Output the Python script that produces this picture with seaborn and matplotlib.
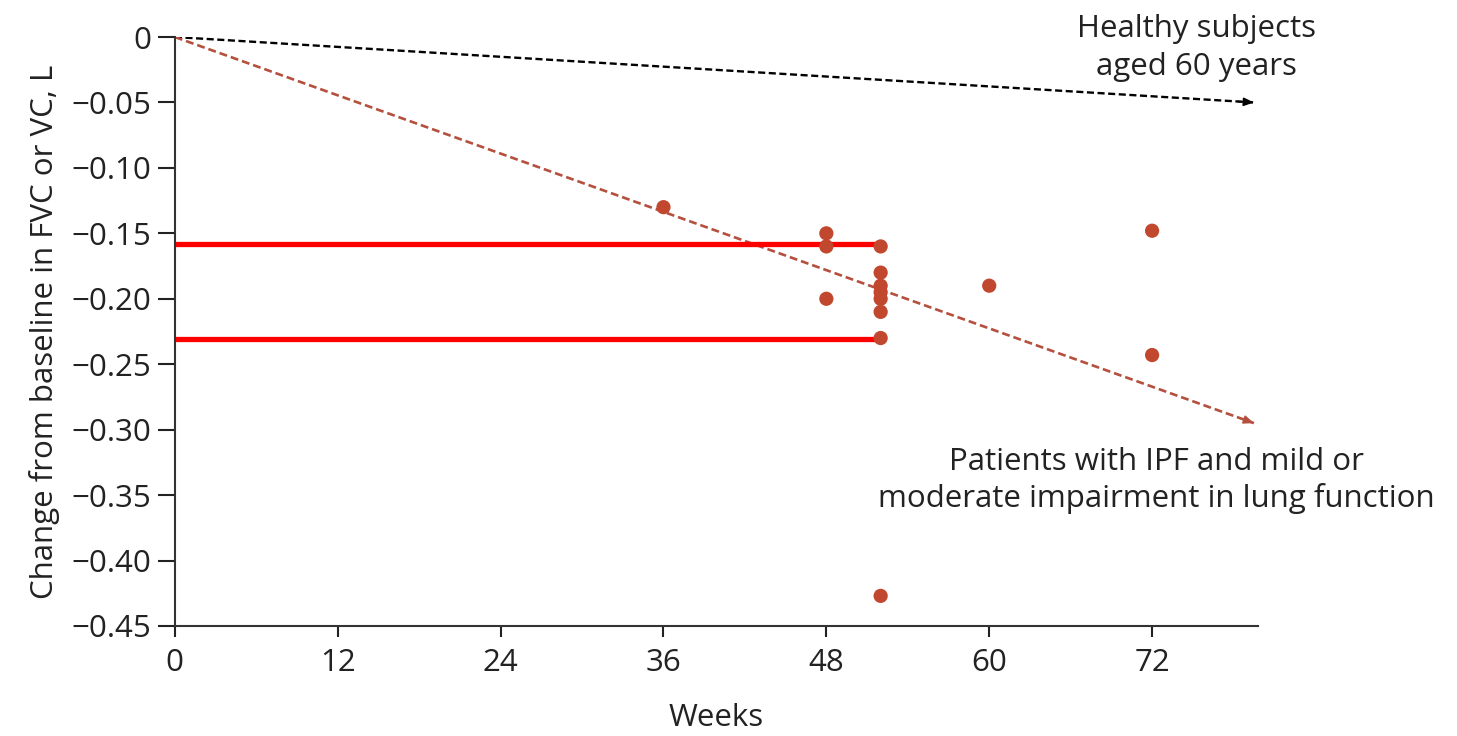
import matplotlib
matplotlib.use('Agg')
import matplotlib.pyplot as plt
import seaborn as sns

# observed FVC / VC decline in IPF studies
weeks = [36, 48, 48, 48, 52, 52, 52, 52, 52, 52, 52, 52, 60, 72, 72]
change = [-0.13, -0.15, -0.16, -0.20, -0.16, -0.18, -0.19, -0.195, -0.20,
          -0.21, -0.23, -0.427, -0.19, -0.148, -0.243]

# reference slopes
healthy_x = [0, 79.5]
healthy_y = [0, -0.05]
ipf_x = [0, 79.5]
ipf_y = [0, -0.295]

# red range markers at 52 weeks
range_x = [0, 52]
range_low = -0.231
range_high = -0.158

xticks = [0, 12, 24, 36, 48, 60, 72]
yticks = [0, -0.05, -0.10, -0.15, -0.20, -0.25, -0.30, -0.35, -0.40, -0.45]

sns.set_style('ticks')
plt.rcParams['font.family'] = ['Open Sans', 'DejaVu Sans']

fig = plt.figure(figsize=(14.57, 7.36), dpi=100)
ax = fig.add_axes([0.120, 0.1495, 0.7434, 0.8002])

dot_color = '#C2472F'
ipf_color = '#B5503F'
fs = 22.5

sns.lineplot(x=healthy_x, y=healthy_y, ax=ax, color='black', lw=1.7,
             linestyle=(0, (3, 1.5)))
sns.lineplot(x=ipf_x, y=ipf_y, ax=ax, color=ipf_color, lw=1.9,
             linestyle=(0, (3, 1.5)))

# arrow heads at the end of the slopes
for xs, ys, c in [(healthy_x, healthy_y, 'black'), (ipf_x, ipf_y, ipf_color)]:
    fx = xs[1] - 1.2
    fy = ys[0] + (ys[1] - ys[0]) * fx / xs[1]
    ax.annotate('', xy=(xs[1], ys[1]), xytext=(fx, fy),
                arrowprops=dict(arrowstyle='-|>,head_length=0.6,head_width=0.25',
                                color=c, lw=1.2, shrinkA=0, shrinkB=0))

for yv in [range_high, range_low]:
    sns.lineplot(x=range_x, y=[yv, yv], ax=ax, color='#FF0000', lw=3.8)

sns.scatterplot(x=weeks, y=change, ax=ax, color=dot_color, s=105,
                edgecolor='none', zorder=5)

ax.set_xlim(0, 79.8)
ax.set_ylim(-0.45, 0)
ax.set_xticks(xticks)
ax.set_yticks(yticks)
ax.set_yticklabels(['0'] + [f'\u2212{abs(v):.2f}' for v in yticks[1:]])
ax.tick_params(axis='both', labelsize=fs, colors='#222222', width=1.5)
ax.tick_params(axis='x', length=8, pad=8)
ax.tick_params(axis='y', length=12, pad=5)
sns.despine(ax=ax)
for s in ['left', 'bottom']:
    ax.spines[s].set_linewidth(1.5)
    ax.spines[s].set_color('#333333')

ax.set_xlabel('Weeks', fontsize=fs, color='#222222', labelpad=18)
ax.set_ylabel('Change from baseline in FVC or VC, L', fontsize=fs,
              color='#222222', labelpad=8)

ax.text(75.3, -0.0084, 'Healthy subjects\naged 60 years', fontsize=fs,
        ha='center', va='center', color='#222222', linespacing=1.35,
        clip_on=False)
ax.text(72.3, -0.339, 'Patients with IPF and mild or\nmoderate impairment in lung function',
        fontsize=fs, ha='center', va='center', color='#222222',
        linespacing=1.25, clip_on=False)

fig.savefig('out.png', dpi=100)
